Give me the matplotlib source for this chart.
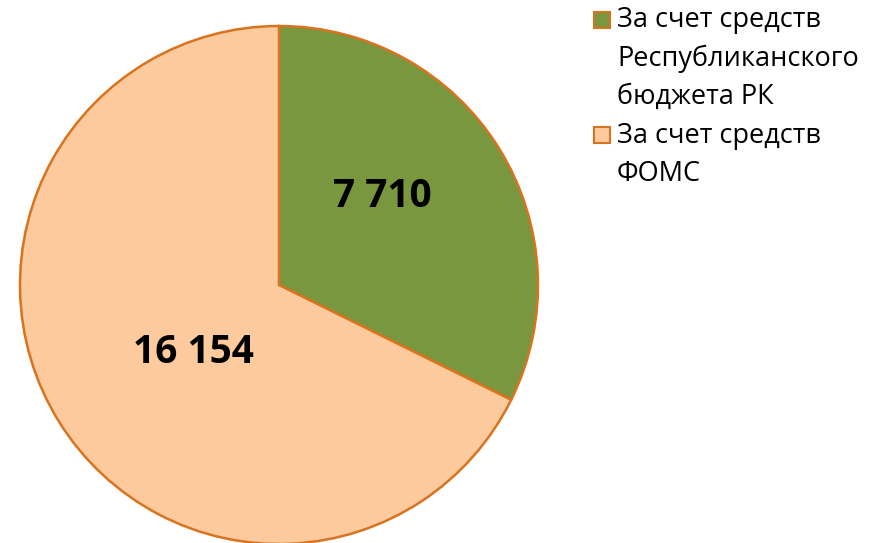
import matplotlib
matplotlib.use("Agg")
import matplotlib.pyplot as plt
from matplotlib.patches import Rectangle

# data
labels = ["За счет средств\nРеспубликанского\nбюджета РК", "За счет средств\nФОМС"]
values = [7710, 16154]
value_text = ["7 710", "16 154"]
colors = ["#78973F", "#FCCA9C"]
edge = "#D9731E"

W, H = 875, 543
fig = plt.figure(figsize=(W / 100, H / 100), dpi=100)

cx, cy, r = 279, 285, 259
ax = fig.add_axes([(cx - r) / W, (H - cy - r) / H, 2 * r / W, 2 * r / H])
wedges, _ = ax.pie(values, colors=colors, startangle=90, counterclock=False,
                   radius=1, wedgeprops=dict(edgecolor=edge, linewidth=1.8))
ax.set_xlim(-1, 1)
ax.set_ylim(-1, 1)
ax.set_aspect("equal")
ax.axis("off")

# value labels
label_pos = [(0.40, 0.34), (-0.33, -0.26)]
for (x, y), t in zip(label_pos, value_text):
    ax.text(x, y, t, ha="center", va="center", fontsize=28,
            fontweight="bold", family="Open Sans", color="black")

# legend drawn by hand to keep the marker on the first line
line_h = 38.5 / H
y0 = 1 - 20 / H
for i, (lab, col) in enumerate(zip(labels, colors)):
    fig.patches.append(Rectangle((594 / W, y0 - 8 / H), 16 / W, 16 / H,
                                 transform=fig.transFigure, facecolor=col,
                                 edgecolor=edge, linewidth=1.5))
    for j, line in enumerate(lab.split("\n")):
        fig.text(617 / W, y0 - j * line_h, line, ha="left", va="center",
                 fontsize=19.5, family="Open Sans", color="black")
    y0 -= len(lab.split("\n")) * line_h

fig.savefig("out.png", dpi=100)
